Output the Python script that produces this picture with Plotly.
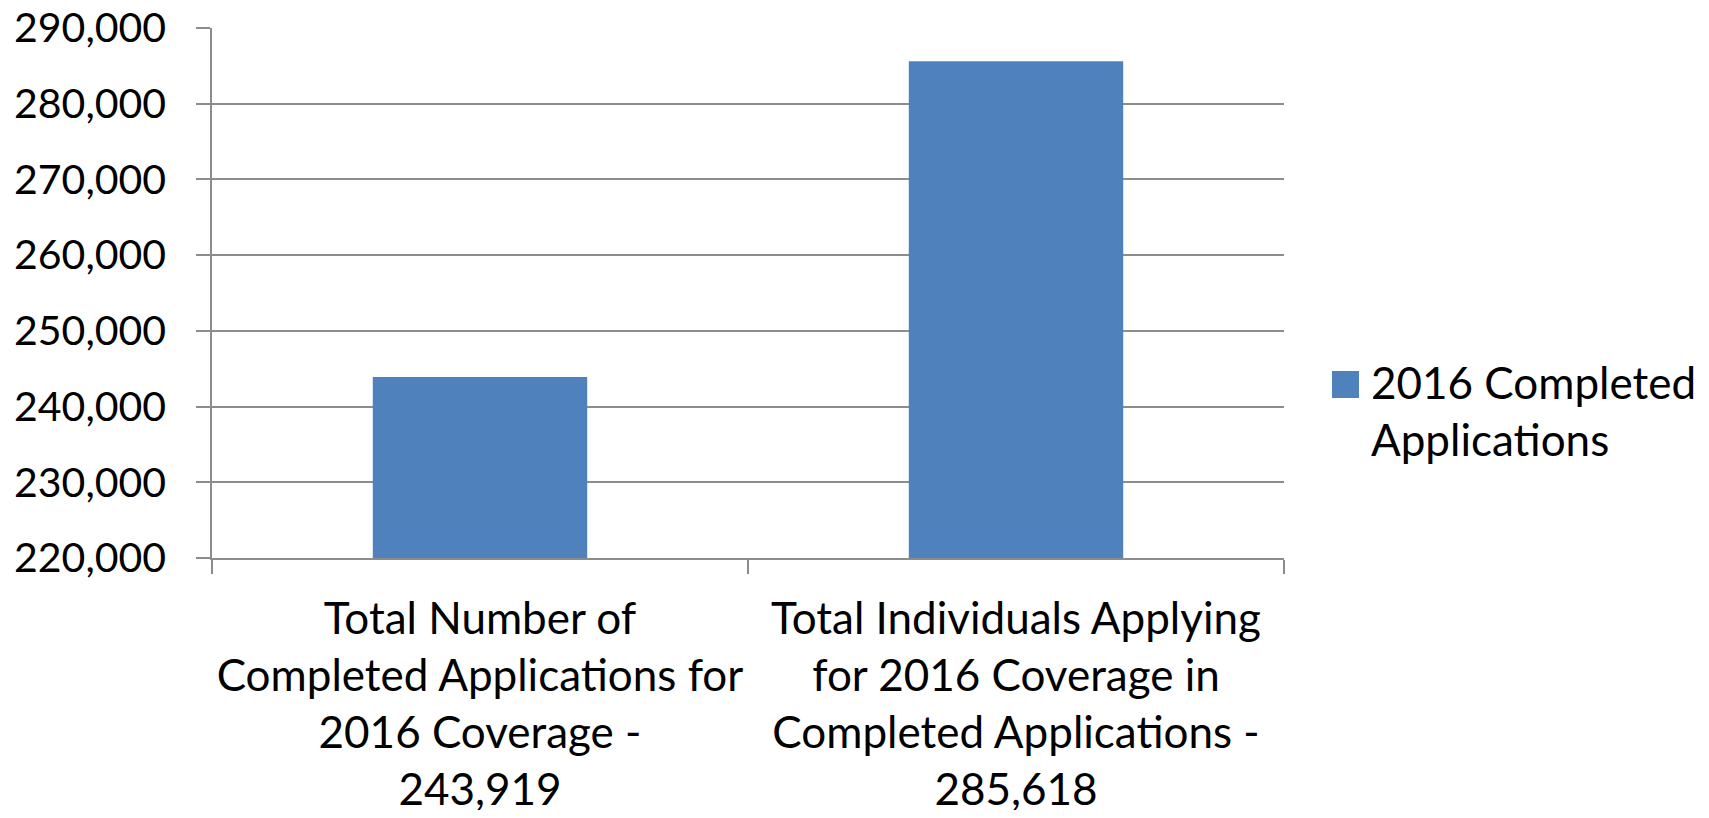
import plotly.graph_objects as go

categories = [
    "Total Number of<br>Completed Applications for<br>2016 Coverage -<br>243,919",
    "Total Individuals Applying<br>for 2016 Coverage in<br>Completed Applications -<br>285,618",
]
values = [243919, 285618]
series_name = "2016 Completed<br>Applications"
y_ticks = [220000, 230000, 240000, 250000, 260000, 270000, 280000, 290000]

FONT = "Lato"
BAR = "#4F81BD"
GRID = "#8C8C8C"

W, H = 1693, 802
L, T, R, B = 204, 20, 1276, 550  # plot area in figure pixels
PW, PH = R - L, B - T

fig = go.Figure()
fig.add_trace(go.Bar(
    x=categories, y=values, name=series_name,
    marker=dict(color=BAR, line=dict(width=0)),
    width=0.4, showlegend=False,
))

fig.update_layout(
    width=W, height=H,
    margin=dict(l=L, r=W - R, t=T, b=H - B, autoexpand=False),
    paper_bgcolor="white", plot_bgcolor="white",
    font=dict(family=FONT, color="black"),
    xaxis=dict(
        showgrid=False, showline=True, linecolor=GRID, linewidth=1.5,
        ticks="outside", ticklen=14, tickcolor=GRID, tickwidth=1.5,
        tickson="boundaries", tickfont=dict(size=44, family=FONT),
        ticklabelstandoff=21, tickangle=0, ticklabeloverflow="allow",
    ),
    yaxis=dict(
        range=[220000, 290000], tickvals=y_ticks, tickformat=",",
        showgrid=True, gridcolor=GRID, gridwidth=1.5,
        showline=True, linecolor=GRID, linewidth=1.5,
        ticks="outside", ticklen=14, tickcolor=GRID, tickwidth=1.5,
        tickfont=dict(size=41, family=FONT), ticklabelstandoff=22,
        ticklabeloverflow="allow", zeroline=False,
    ),
)

# legend built from the series name
fig.add_shape(type="rect", xref="paper", yref="paper",
              x0=(1324 - L) / PW, x1=(1351 - L) / PW,
              y0=(B - 390) / PH, y1=(B - 363) / PH,
              fillcolor=BAR, line=dict(width=0))
fig.add_annotation(xref="paper", yref="paper",
                   x=(1361 - L) / PW, y=(B - 346) / PH,
                   xanchor="left", yanchor="top", align="left",
                   text=series_name, showarrow=False,
                   font=dict(size=44, family=FONT, color="black"))

fig.write_html("out.html")
